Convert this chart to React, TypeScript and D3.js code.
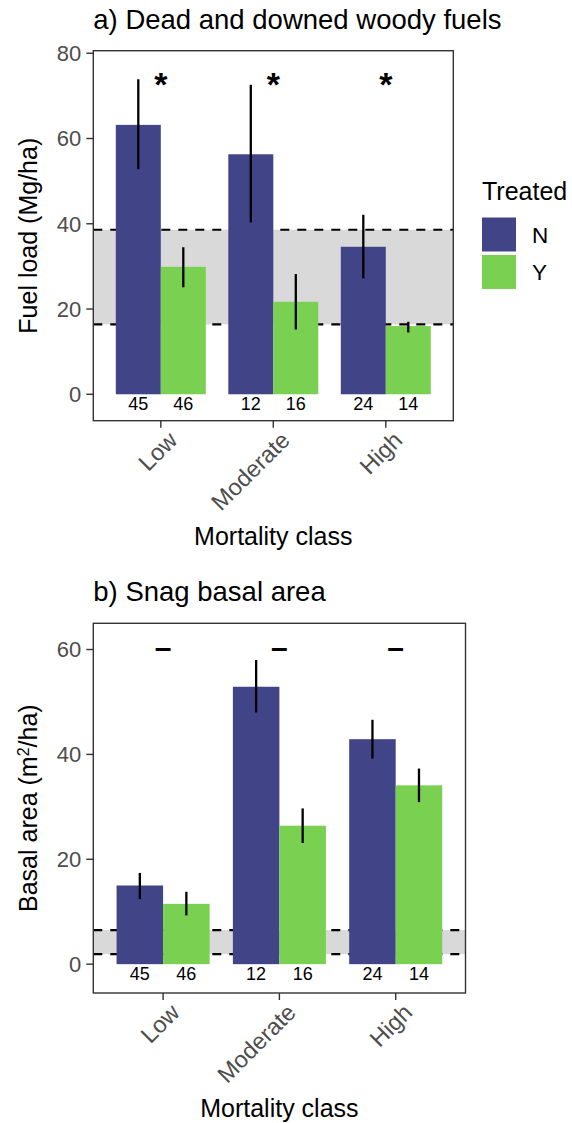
import React from "react";
import * as d3 from "d3";

// categories / groups
const classes = ["Low", "Moderate", "High"];
const groups = ["N", "Y"];
const groupColors = ["#414487", "#7AD151"];

// a) dead and downed woody fuels (Mg/ha)
const fuelN = [63.2, 56.3, 34.6];
const fuelY = [29.9, 21.7, 16.0];
const fuelNErr = [[52.8, 73.9], [40.3, 72.6], [27.2, 42.1]];
const fuelYErr = [[25.1, 34.5], [15.2, 28.2], [14.5, 17.0]];
const fuelRange = [16.4, 38.6];
const fuelCountN = [45, 12, 24];
const fuelCountY = [46, 16, 14];
const fuelSig = ["*", "*", "*"];
const fuelTicks = [0, 20, 40, 60, 80];

// b) snag basal area (m2/ha)
const snagN = [15.0, 52.9, 42.9];
const snagY = [11.5, 26.4, 34.1];
const snagNErr = [[12.4, 17.4], [48.0, 58.0], [39.2, 46.6]];
const snagYErr = [[9.3, 13.8], [23.1, 29.7], [30.9, 37.3]];
const snagRange = [1.9, 6.5];
const snagCountN = [45, 12, 24];
const snagCountY = [46, 16, 14];
const snagSig = ["–", "–", "–"];
const snagTicks = [0, 20, 40, 60];

const FONT = "'Liberation Sans', Arial, Helvetica, sans-serif";
const GREY = "#4D4D4D";

type PanelProps = {
  title: string;
  yTitle: React.ReactNode;
  left: number; top: number; right: number; bottom: number;
  domain: [number, number];
  ticks: number[];
  nVals: number[]; yVals: number[];
  nErr: number[][]; yErr: number[][];
  band: number[];
  nCount: number[]; yCount: number[];
  sig: string[]; sigAt: number; sigSize: number; sigDy: number;
};

function Panel(p: PanelProps) {
  const x = d3.scaleBand().domain(classes).range([p.left, p.right]).paddingInner(0.2).paddingOuter(0.2);
  const xi = d3.scaleBand().domain(groups).range([0, x.bandwidth()]);
  const y = d3.scaleLinear().domain(p.domain).range([p.bottom, p.top]);
  const vals = [p.nVals, p.yVals];
  const errs = [p.nErr, p.yErr];
  const counts = [p.nCount, p.yCount];
  const midY = (p.top + p.bottom) / 2;
  return (
    <g fontFamily={FONT}>
      <text x={p.left} y={p.top - 22} fontSize={27.5} fill="#000">{p.title}</text>
      <clipPath id={"clip" + p.top}>
        <rect x={p.left} y={p.top} width={p.right - p.left} height={p.bottom - p.top} />
      </clipPath>
      <g clipPath={`url(#clip${p.top})`}>
        <rect x={p.left} width={p.right - p.left} y={y(p.band[1])} height={y(p.band[0]) - y(p.band[1])} fill="#D9D9D9" />
        {p.band.map((b, i) => (
          <line key={i} x1={p.left} x2={p.right} y1={y(b)} y2={y(b)} stroke="#000" strokeWidth={2.2} strokeDasharray="9 8" />
        ))}
      </g>
      {classes.map((c, ci) => groups.map((g, gi) => {
        const x0 = (x(c) as number) + (xi(g) as number);
        const v = vals[gi][ci];
        return <rect key={c + g} x={x0} width={xi.bandwidth()} y={y(v)} height={y(0) - y(v)} fill={groupColors[gi]} />;
      }))}
      {classes.map((c, ci) => groups.map((g, gi) => {
        const cx = (x(c) as number) + (xi(g) as number) + xi.bandwidth() / 2;
        const e = errs[gi][ci];
        return <line key={c + g} x1={cx} x2={cx} y1={y(e[0])} y2={y(e[1])} stroke="#000" strokeWidth={2.3} />;
      }))}
      {classes.map((c, ci) => groups.map((g, gi) => {
        const cx = (x(c) as number) + (xi(g) as number) + xi.bandwidth() / 2;
        return <text key={c + g} x={cx} y={y(0) + 16} textAnchor="middle" fontSize={18} fill="#000">{counts[gi][ci]}</text>;
      }))}
      {classes.map((c, ci) => {
        const cx = (x(c) as number) + x.bandwidth() / 2;
        return <text key={c} x={cx} y={y(p.sigAt) + p.sigDy} textAnchor="middle" fontSize={p.sigSize} fontWeight="bold" fill="#000">{p.sig[ci]}</text>;
      })}
      <rect x={p.left} y={p.top} width={p.right - p.left} height={p.bottom - p.top} fill="none" stroke="#333" strokeWidth={1.4} />
      {p.ticks.map((t) => (
        <g key={t}>
          <line x1={p.left - 7} x2={p.left} y1={y(t)} y2={y(t)} stroke="#333" strokeWidth={1.4} />
          <text x={p.left - 12} y={y(t)} dy="0.36em" textAnchor="end" fontSize={22} fill={GREY}>{t}</text>
        </g>
      ))}
      {classes.map((c) => {
        const cx = (x(c) as number) + x.bandwidth() / 2;
        return (
          <g key={c}>
            <line x1={cx} x2={cx} y1={p.bottom} y2={p.bottom + 7} stroke="#333" strokeWidth={1.4} />
            <text transform={`translate(${cx + 6},${p.bottom + 9}) rotate(-45)`} dy="0.72em" textAnchor="end" fontSize={23.5} fill={GREY}>{c}</text>
          </g>
        );
      })}
      <text x={(p.left + p.right) / 2} y={p.bottom + 124} textAnchor="middle" fontSize={25} fill="#000">Mortality class</text>
      <text transform={`translate(37,${midY}) rotate(-90)`} textAnchor="middle" fontSize={25} fill="#000">{p.yTitle}</text>
    </g>
  );
}

export default function App() {
  return (
    <div style={{ position: "absolute", left: 0, top: 0 }}>
      <svg width={572} height={1123} style={{ display: "block", background: "#fff" }}>
        <Panel
          title="a) Dead and downed woody fuels"
          yTitle="Fuel load (Mg/ha)"
          left={93.3} top={50.7} right={453.3} bottom={420.7}
          domain={[-6.2, 80.6]} ticks={fuelTicks}
          nVals={fuelN} yVals={fuelY} nErr={fuelNErr} yErr={fuelYErr}
          band={fuelRange} nCount={fuelCountN} yCount={fuelCountY}
          sig={fuelSig} sigAt={74} sigSize={34} sigDy={17}
        />
        <Panel
          title="b) Snag basal area"
          yTitle={<>Basal area (m<tspan baselineShift="super" fontSize={16}>2</tspan>/ha)</>}
          left={93.3} top={623.3} right={465.5} bottom={993}
          domain={[-5.5, 65]} ticks={snagTicks}
          nVals={snagN} yVals={snagY} nErr={snagNErr} yErr={snagYErr}
          band={snagRange} nCount={snagCountN} yCount={snagCountY}
          sig={snagSig} sigAt={60} sigSize={30} sigDy={8.5}
        />
        <g fontFamily={FONT}>
          <text x={482} y={200} fontSize={25} fill="#000">Treated</text>
          {groups.map((g, i) => (
            <g key={g}>
              <rect x={482} y={217.5 + i * 37.5} width={34} height={34} fill={groupColors[i]} />
              <text x={532} y={217.5 + i * 37.5 + 17} dy="0.36em" fontSize={22.5} fill="#000">{g}</text>
            </g>
          ))}
        </g>
      </svg>
    </div>
  );
}
